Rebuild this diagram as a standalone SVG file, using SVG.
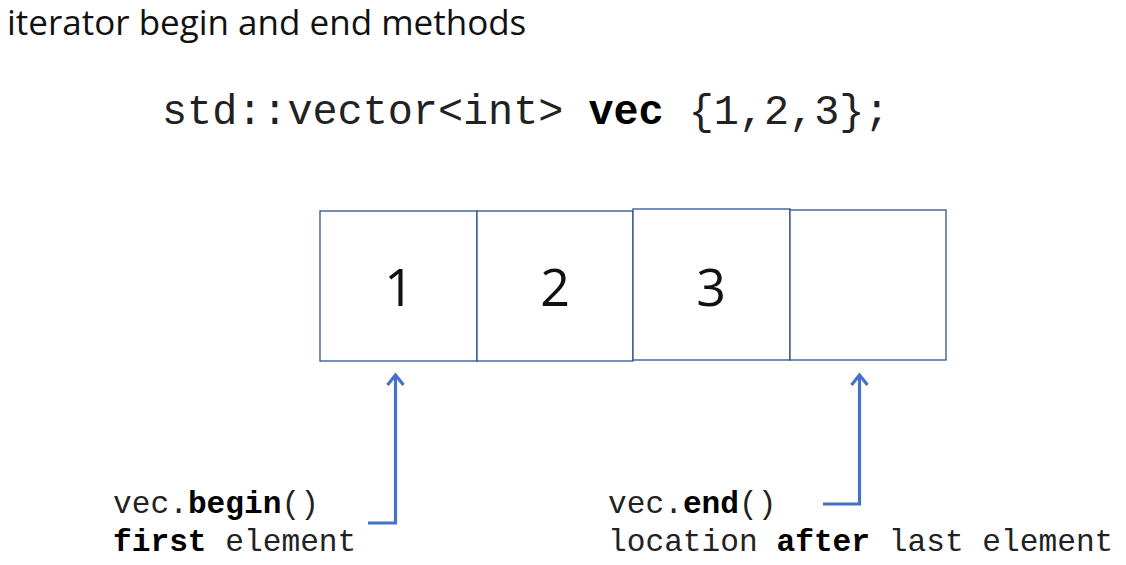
<svg xmlns="http://www.w3.org/2000/svg" width="1126" height="565" viewBox="0 0 1126 565">
<defs>
<style>
.title{font-family:"Open Sans","Noto Sans",sans-serif;font-size:35px;fill:#111}
.code{font-family:"Liberation Mono","Courier New",monospace;font-size:41.8px;fill:#222}
.lbl{font-family:"Liberation Mono","Courier New",monospace;font-size:31.2px;fill:#222}
.b{font-weight:bold;fill:#000}
.cell{fill:#fff;stroke:#2F528F;stroke-width:1.3}
.num{font-family:"Open Sans","Noto Sans",sans-serif;font-size:52px;fill:#111;text-anchor:middle}
.conn{fill:none;stroke:#4472C4;stroke-width:3.2}
</style>
</defs>
<rect width="1126" height="565" fill="#fff"/>
<text class="title" x="7" y="35">iterator begin and end methods</text>
<text class="code" x="162" y="124">std::vector&lt;int&gt; <tspan class="b">vec</tspan> {1,2,3};</text>
<g id="cell1"><rect class="cell" x="320" y="211" width="157" height="150"/><text class="num" x="399" y="306">1</text></g>
<g id="cell2"><rect class="cell" x="477" y="211" width="156" height="150"/><text class="num" x="555" y="306">2</text></g>
<g id="cell3"><rect class="cell" x="633" y="209" width="157" height="151"/><text class="num" x="711" y="306">3</text></g>
<g id="cell4"><rect class="cell" x="790" y="210" width="156" height="150"/></g>
<g id="connectors">
<path class="conn" d="M368,523 L395.5,523 L395.5,376"/>
<path class="conn" d="M387.5,385 L395.5,375 L403.5,385"/>
<path class="conn" d="M823,504 L859.5,504 L859.5,376"/>
<path class="conn" d="M851.5,385 L859.5,375 L867.5,385"/>
</g>
<g id="begin-label">
<text class="lbl" x="113" y="513">vec.<tspan class="b">begin</tspan>()</text>
<text class="lbl" x="113" y="551"><tspan class="b">first</tspan> element</text>
</g>
<g id="end-label">
<text class="lbl" x="608" y="513">vec.<tspan class="b">end</tspan>()</text>
<text class="lbl" x="608" y="551">location <tspan class="b">after</tspan> last element</text>
</g>
</svg>
